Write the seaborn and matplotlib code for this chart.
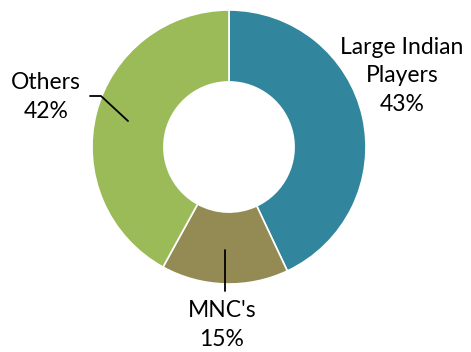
import matplotlib
matplotlib.use("Agg")
import matplotlib.pyplot as plt
import seaborn as sns

categories = ["Large Indian\nPlayers", "MNC's", "Others"]
shares = [43, 15, 42]
colors = ["#31859C", "#948A54", "#9BBB59"]

sns.set_theme(style="white")
plt.rcParams['font.family'] = ['Lato', 'DejaVu Sans']

W, H = 471, 352
cx, cy, R = 229, 147, 137

def px(x, y):
    return ((x - cx) / R, (cy - y) / R)

fig = plt.figure(figsize=(W / 100, H / 100), dpi=100)
ax = fig.add_axes([0, 0, 1, 1])
ax.pie(shares, colors=colors, startangle=90, counterclock=False, radius=1.0,
       wedgeprops=dict(width=0.525, edgecolor="white", linewidth=1.2))
ax.set_xlim(-cx / R, (W - cx) / R)
ax.set_ylim(-(H - cy) / R, cy / R)
ax.set_aspect("equal")
ax.axis("off")

# leader lines
x0, y0 = px(90, 96); x1, y1 = px(101, 96); x2, y2 = px(128, 121)
ax.plot([x0, x1, x2], [y0, y1, y2], color="black", lw=1.3)
a0, b0 = px(225, 250); a1, b1 = px(225, 291)
ax.plot([a0, a1], [b0, b1], color="black", lw=1.3)

fs = 16.5
labels = [f"{c}\n{v}%" for c, v in zip(categories, shares)]
pos = [px(402, 76), px(222, 325), px(46, 97)]
for lab, (x, y) in zip(labels, pos):
    ax.text(x, y, lab, ha="center", va="center", fontsize=fs, linespacing=1.45,
            color="black")

fig.savefig("out.png", dpi=100)
